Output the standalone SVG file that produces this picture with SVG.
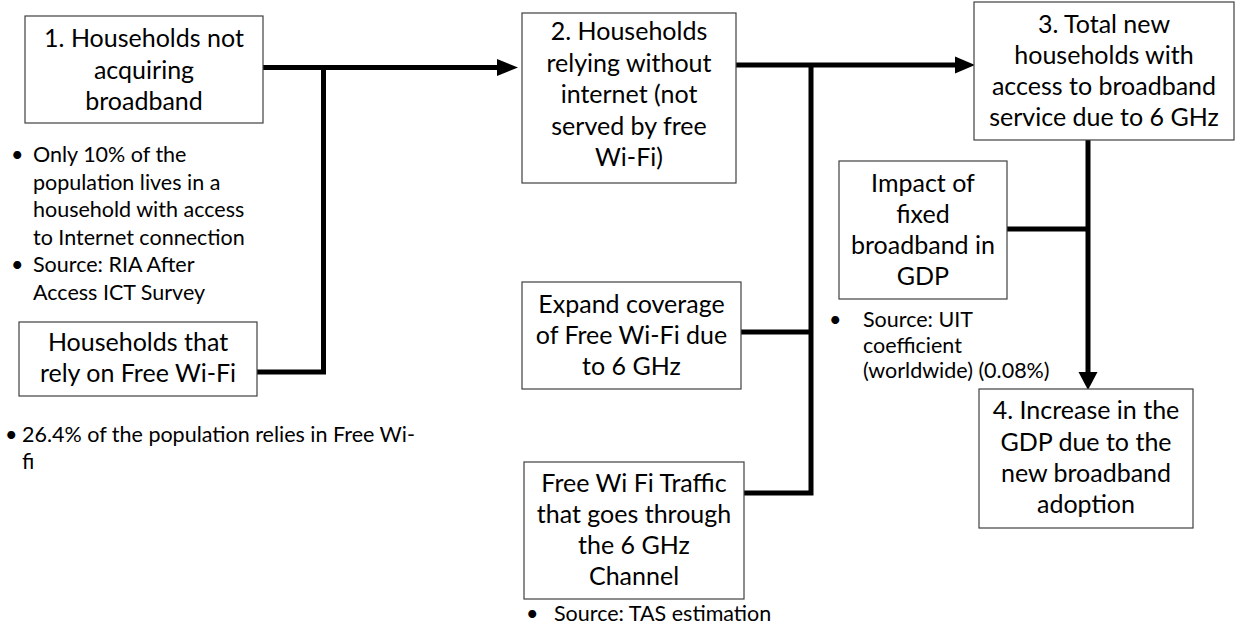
<svg xmlns="http://www.w3.org/2000/svg" width="1236" height="627" viewBox="0 0 1236 627">
<style>
.box{fill:#ffffff;stroke:#404040;stroke-width:1.2}
.t{font-family:Lato,"Liberation Sans",sans-serif;font-size:25px;fill:#000;text-anchor:middle}
.b{font-family:Lato,"Liberation Sans",sans-serif;font-size:21.5px;fill:#000}
.c{fill:none;stroke:#000;stroke-width:5;stroke-linejoin:miter}
.ah{fill:#000}
</style>
<rect width="1236" height="627" fill="#fff"/>
<g id="connectors">
<path class="c" d="M263,67.5 H499"/>
<polygon class="ah" points="518,67.5 497,59 497,76"/>
<path class="c" d="M257,372 H323.5 V67.5"/>
<path class="c" d="M736,65 H957"/>
<polygon class="ah" points="975,65 955,56.5 955,73.5"/>
<path class="c" d="M744,493 H811 V65"/>
<path class="c" d="M741,332 H811"/>
<path class="c" d="M1088,140 V374"/>
<polygon class="ah" points="1088,390 1078.5,372 1097.5,372"/>
<path class="c" d="M1007,229 H1088"/>
</g>
<g id="node1">
<rect class="box" x="25" y="16" width="238" height="107"/>
<text class="t" x="144" y="47">1. Households not</text>
<text class="t" x="144" y="79">acquiring</text>
<text class="t" x="144" y="110">broadband</text>
</g>
<g id="note1">
<text class="b" x="11" y="162">•</text>
<text class="b" x="33" y="162">Only 10% of the</text>
<text class="b" x="33" y="190">population lives in a</text>
<text class="b" x="33" y="217">household with access</text>
<text class="b" x="33" y="245">to Internet connection</text>
<text class="b" x="11" y="272">•</text>
<text class="b" x="33" y="272">Source: RIA After</text>
<text class="b" x="33" y="300">Access ICT Survey</text>
</g>
<g id="node-freewifi">
<rect class="box" x="19" y="322" width="238" height="74"/>
<text class="t" x="138" y="351">Households that</text>
<text class="t" x="138" y="382">rely on Free Wi-Fi</text>
</g>
<g id="note-freewifi">
<text class="b" x="5" y="442">•</text>
<text class="b" x="22" y="442">26.4% of the population relies in Free Wi-</text>
<text class="b" x="22" y="469">fi</text>
</g>
<g id="node2">
<rect class="box" x="522" y="13" width="214" height="170"/>
<text class="t" x="629" y="40">2. Households</text>
<text class="t" x="629" y="72">relying without</text>
<text class="t" x="629" y="103">internet (not</text>
<text class="t" x="629" y="135">served by free</text>
<text class="t" x="629" y="166">Wi-Fi)</text>
</g>
<g id="node-expand">
<rect class="box" x="522" y="282" width="219" height="107"/>
<text class="t" x="631.5" y="313">Expand coverage</text>
<text class="t" x="631.5" y="344">of Free Wi-Fi due</text>
<text class="t" x="631.5" y="375">to 6 GHz</text>
</g>
<g id="node-traffic">
<rect class="box" x="524" y="462" width="220" height="137"/>
<text class="t" x="634" y="492">Free Wi Fi Traffic</text>
<text class="t" x="634" y="523">that goes through</text>
<text class="t" x="634" y="554">the 6 GHz</text>
<text class="t" x="634" y="585">Channel</text>
</g>
<g id="note-traffic">
<text class="b" x="526" y="621">•</text>
<text class="b" x="554" y="621">Source: TAS estimation</text>
</g>
<g id="node3">
<rect class="box" x="974" y="2" width="260" height="138"/>
<text class="t" x="1104" y="33">3. Total new</text>
<text class="t" x="1104" y="64">households with</text>
<text class="t" x="1104" y="95">access to broadband</text>
<text class="t" x="1104" y="126">service due to 6 GHz</text>
</g>
<g id="node-impact">
<rect class="box" x="839" y="161" width="168" height="138"/>
<text class="t" x="923" y="192">Impact of</text>
<text class="t" x="923" y="223">fixed</text>
<text class="t" x="923" y="254">broadband in</text>
<text class="t" x="923" y="285">GDP</text>
</g>
<g id="note-impact">
<text class="b" x="829" y="327">•</text>
<text class="b" x="863" y="327">Source: UIT</text>
<text class="b" x="863" y="353">coefficient</text>
<text class="b" x="863" y="378">(worldwide) (0.08%)</text>
</g>
<g id="node4">
<rect class="box" x="979" y="389" width="214" height="139"/>
<text class="t" x="1086" y="419">4. Increase in the</text>
<text class="t" x="1086" y="451">GDP due to the</text>
<text class="t" x="1086" y="482">new broadband</text>
<text class="t" x="1086" y="513">adoption</text>
</g>
</svg>
